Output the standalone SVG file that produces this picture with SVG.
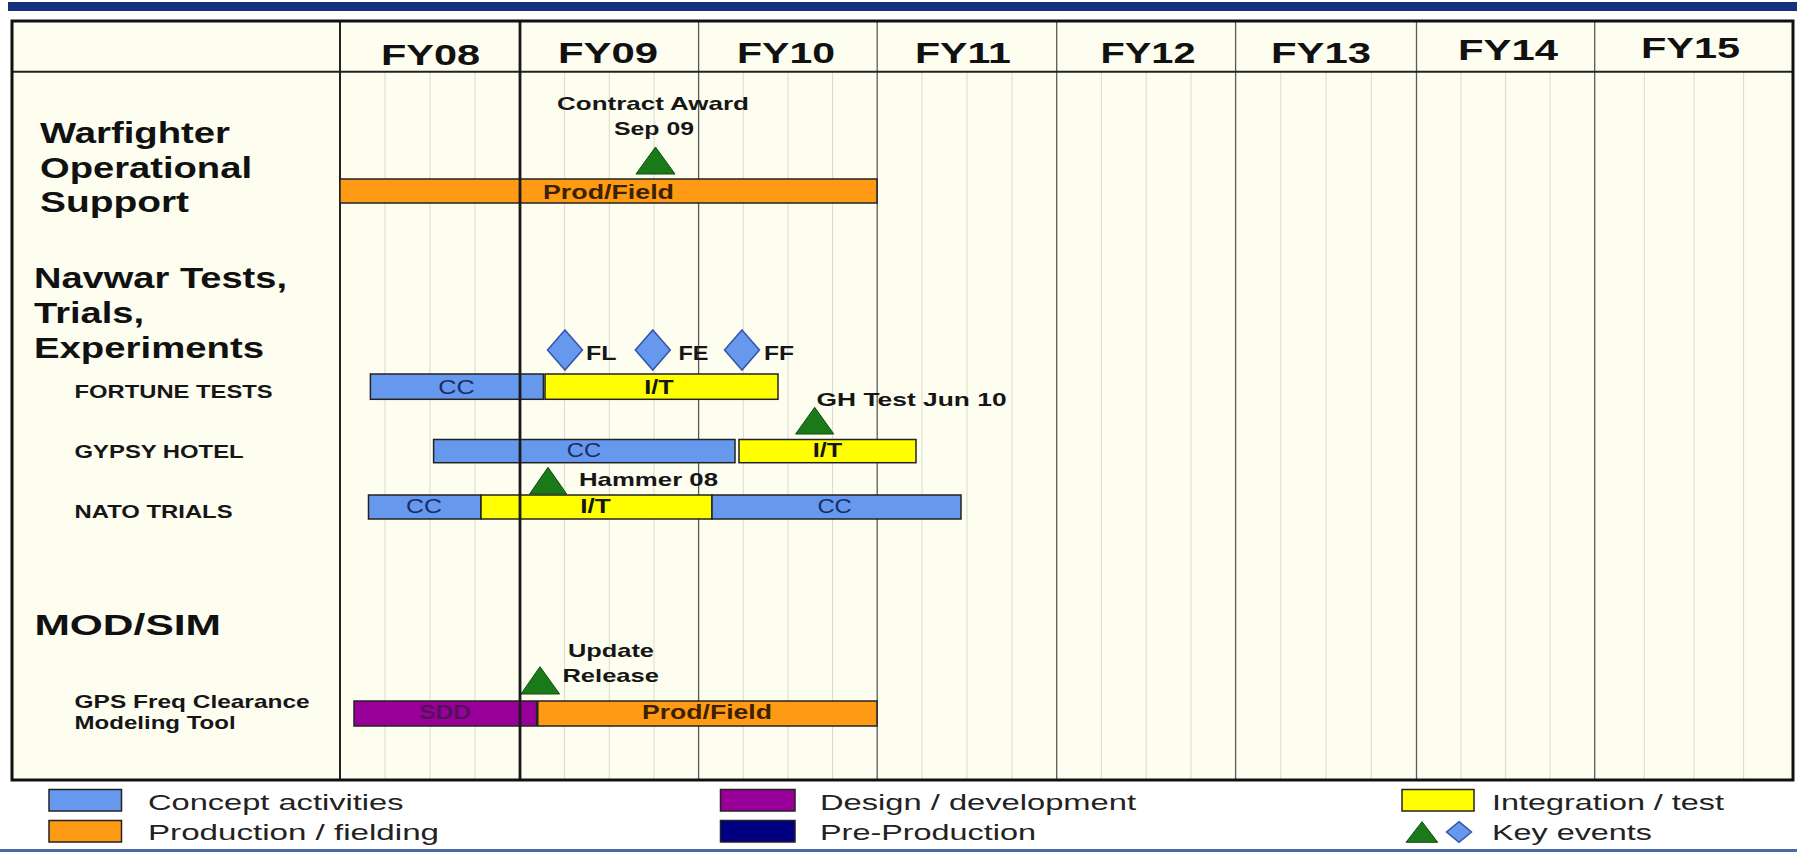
<svg xmlns="http://www.w3.org/2000/svg" width="1797" height="852" viewBox="0 0 1797 852">
  <style>
    text { font-family: "Liberation Sans", Arial, sans-serif; }
    .fy { font-size: 30px; font-weight: bold; fill: #111; }
    .sec { font-size: 29px; font-weight: bold; fill: #111; }
    .sub { font-size: 18.5px; font-weight: bold; fill: #161616; }
    .evt { font-size: 19px; font-weight: bold; fill: #161616; }
    .mk { font-size: 20px; font-weight: bold; fill: #161616; }
    .tcc { font-size: 21px; fill: #1c2c66; }
    .tit { font-size: 21px; font-weight: bold; fill: #161616; }
    .tpf { font-size: 20px; font-weight: bold; fill: #3a2200; }
    .tsdd { font-size: 20px; font-weight: bold; fill: #55105a; }
    .leg { font-size: 22px; fill: #222; }
    .bar { stroke: #222; stroke-width: 1.5; }
    .cc { fill: #6699ee; }
    .it { fill: #ffff00; }
    .pf { fill: #ff9a14; }
    .sdd { fill: #990099; }
    .pre { fill: #000080; }
    .tri { fill: #1a7a1a; stroke: #0d4d0d; stroke-width: 1; }
    .dia { fill: #6699ee; stroke: #3355aa; stroke-width: 1.5; }
    .minor { stroke: #d9d9cc; stroke-width: 1; }
    .major { stroke: #5a5a5a; stroke-width: 1.3; }
  </style>

  <!-- page background and title rule -->
  <rect x="0" y="0" width="1797" height="852" fill="#ffffff"/>
  <rect x="8" y="2" width="1789" height="9" fill="#15307f"/>
  <rect x="0" y="849" width="1797" height="3" fill="#4a6aa8"/>

  <!-- schedule grid -->
  <g id="grid">
    <rect x="12" y="21" width="1781" height="759" fill="#fdfdf0"/>
    <g class="minor">
      <line x1="385" y1="72" x2="385" y2="780"/>
      <line x1="430" y1="72" x2="430" y2="780"/>
      <line x1="475" y1="72" x2="475" y2="780"/>
      <line x1="564.6" y1="72" x2="564.6" y2="780"/>
      <line x1="609.3" y1="72" x2="609.3" y2="780"/>
      <line x1="654" y1="72" x2="654" y2="780"/>
      <line x1="743.3" y1="72" x2="743.3" y2="780"/>
      <line x1="788" y1="72" x2="788" y2="780"/>
      <line x1="832.6" y1="72" x2="832.6" y2="780"/>
      <line x1="922" y1="72" x2="922" y2="780"/>
      <line x1="967" y1="72" x2="967" y2="780"/>
      <line x1="1012" y1="72" x2="1012" y2="780"/>
      <line x1="1101.4" y1="72" x2="1101.4" y2="780"/>
      <line x1="1146.2" y1="72" x2="1146.2" y2="780"/>
      <line x1="1191" y1="72" x2="1191" y2="780"/>
      <line x1="1280.8" y1="72" x2="1280.8" y2="780"/>
      <line x1="1326" y1="72" x2="1326" y2="780"/>
      <line x1="1371.3" y1="72" x2="1371.3" y2="780"/>
      <line x1="1461" y1="72" x2="1461" y2="780"/>
      <line x1="1505.6" y1="72" x2="1505.6" y2="780"/>
      <line x1="1550" y1="72" x2="1550" y2="780"/>
      <line x1="1644.3" y1="72" x2="1644.3" y2="780"/>
      <line x1="1694" y1="72" x2="1694" y2="780"/>
      <line x1="1743.6" y1="72" x2="1743.6" y2="780"/>
    </g>
    <g class="major">
      <line x1="698.6" y1="21" x2="698.6" y2="780"/>
      <line x1="877.2" y1="21" x2="877.2" y2="780"/>
      <line x1="1056.7" y1="21" x2="1056.7" y2="780"/>
      <line x1="1235.6" y1="21" x2="1235.6" y2="780"/>
      <line x1="1416.5" y1="21" x2="1416.5" y2="780"/>
      <line x1="1594.7" y1="21" x2="1594.7" y2="780"/>
    </g>
    <line x1="340" y1="21" x2="340" y2="780" stroke="#222" stroke-width="2"/>
    <line x1="12" y1="71.7" x2="1793" y2="71.7" stroke="#222" stroke-width="2"/>
  </g>

  <!-- fiscal year headings -->
  <g id="years">
    <text class="fy" x="430.5" y="65" text-anchor="middle" textLength="99" lengthAdjust="spacingAndGlyphs">FY08</text>
    <text class="fy" x="608" y="63" text-anchor="middle" textLength="100" lengthAdjust="spacingAndGlyphs">FY09</text>
    <text class="fy" x="786" y="63" text-anchor="middle" textLength="98" lengthAdjust="spacingAndGlyphs">FY10</text>
    <text class="fy" x="963" y="63" text-anchor="middle" textLength="96" lengthAdjust="spacingAndGlyphs">FY11</text>
    <text class="fy" x="1148" y="63" text-anchor="middle" textLength="95" lengthAdjust="spacingAndGlyphs">FY12</text>
    <text class="fy" x="1321" y="63" text-anchor="middle" textLength="100" lengthAdjust="spacingAndGlyphs">FY13</text>
    <text class="fy" x="1508" y="60" text-anchor="middle" textLength="100" lengthAdjust="spacingAndGlyphs">FY14</text>
    <text class="fy" x="1690.5" y="58" text-anchor="middle" textLength="99" lengthAdjust="spacingAndGlyphs">FY15</text>
  </g>

  <!-- Warfighter Operational Support -->
  <g id="warfighter">
    <text class="sec" x="40" y="143" textLength="190" lengthAdjust="spacingAndGlyphs">Warfighter</text>
    <text class="sec" x="40" y="178" textLength="212" lengthAdjust="spacingAndGlyphs">Operational</text>
    <text class="sec" x="40" y="212" textLength="149" lengthAdjust="spacingAndGlyphs">Support</text>
    <rect class="bar pf" x="340" y="179" width="537" height="24"/>
    <text class="tpf" x="543" y="199" textLength="131" lengthAdjust="spacingAndGlyphs">Prod/Field</text>
  </g>
  <g id="contract-award">
    <text class="evt" x="653" y="110" text-anchor="middle" textLength="192" lengthAdjust="spacingAndGlyphs">Contract Award</text>
    <text class="evt" x="654" y="135" text-anchor="middle" textLength="80" lengthAdjust="spacingAndGlyphs">Sep 09</text>
    <polygon class="tri" points="655.5,147 675,174 636,174"/>
  </g>

  <!-- Navwar Tests, Trials, Experiments -->
  <g id="navwar">
    <text class="sec" x="34" y="288" textLength="253" lengthAdjust="spacingAndGlyphs">Navwar Tests,</text>
    <text class="sec" x="34" y="323" textLength="110" lengthAdjust="spacingAndGlyphs">Trials,</text>
    <text class="sec" x="34" y="358" textLength="230" lengthAdjust="spacingAndGlyphs">Experiments</text>
  </g>
  <g id="fortune-tests">
    <text class="sub" x="74.6" y="398.3" textLength="198" lengthAdjust="spacingAndGlyphs">FORTUNE TESTS</text>
    <rect class="bar cc" x="370.4" y="374" width="173" height="25.3"/>
    <rect class="bar it" x="545" y="374" width="233" height="25.3"/>
    <text class="tcc" x="456.4" y="394.3" text-anchor="middle" textLength="36.5" lengthAdjust="spacingAndGlyphs">CC</text>
    <text class="tit" x="659" y="394.3" text-anchor="middle" textLength="29.5" lengthAdjust="spacingAndGlyphs">I/T</text>
    <polygon class="dia" points="565,330 582.5,350 565,370 547.5,350"/>
    <polygon class="dia" points="652.8,330 670.3,350 652.8,370 635.3,350"/>
    <polygon class="dia" points="742,330 759.5,350 742,370 724.5,350"/>
    <text class="mk" x="586" y="360" textLength="30.5" lengthAdjust="spacingAndGlyphs">FL</text>
    <text class="mk" x="678.5" y="360" textLength="30" lengthAdjust="spacingAndGlyphs">FE</text>
    <text class="mk" x="764" y="360" textLength="30" lengthAdjust="spacingAndGlyphs">FF</text>
  </g>
  <g id="gypsy-hotel">
    <text class="sub" x="74.6" y="457.7" textLength="169" lengthAdjust="spacingAndGlyphs">GYPSY HOTEL</text>
    <rect class="bar cc" x="433.6" y="439.5" width="301.4" height="23.2"/>
    <rect class="bar it" x="739" y="439.5" width="177" height="23.2"/>
    <text class="tcc" x="584" y="456.7" text-anchor="middle" textLength="34.4" lengthAdjust="spacingAndGlyphs">CC</text>
    <text class="tit" x="827.5" y="456.7" text-anchor="middle" textLength="29.5" lengthAdjust="spacingAndGlyphs">I/T</text>
    <text class="evt" x="816.6" y="406" textLength="190" lengthAdjust="spacingAndGlyphs">GH Test Jun 10</text>
    <polygon class="tri" points="814.7,407.3 833.8,434 795.6,434"/>
  </g>
  <g id="nato-trials">
    <text class="sub" x="74.6" y="517.7" textLength="158" lengthAdjust="spacingAndGlyphs">NATO TRIALS</text>
    <rect class="bar cc" x="368.5" y="495" width="112.5" height="24"/>
    <rect class="bar it" x="481" y="495" width="231" height="24"/>
    <rect class="bar cc" x="712" y="495" width="249" height="24"/>
    <text class="tcc" x="424" y="513.3" text-anchor="middle" textLength="36" lengthAdjust="spacingAndGlyphs">CC</text>
    <text class="tit" x="595.4" y="513.3" text-anchor="middle" textLength="30.5" lengthAdjust="spacingAndGlyphs">I/T</text>
    <text class="tcc" x="834.6" y="513.3" text-anchor="middle" textLength="34.4" lengthAdjust="spacingAndGlyphs">CC</text>
    <polygon class="tri" points="548,467.3 566.7,494 529.6,494"/>
    <text class="evt" x="579" y="485.7" textLength="139" lengthAdjust="spacingAndGlyphs">Hammer 08</text>
  </g>

  <!-- Modeling and simulation -->
  <g id="modsim">
    <text class="sec" x="34.4" y="635" font-size="30" textLength="186.6" lengthAdjust="spacingAndGlyphs">MOD/SIM</text>
  </g>
  <g id="gps-freq-tool">
    <text class="sub" x="74.6" y="708.3" textLength="235" lengthAdjust="spacingAndGlyphs">GPS Freq Clearance</text>
    <text class="sub" x="74.6" y="729" textLength="161" lengthAdjust="spacingAndGlyphs">Modeling Tool</text>
    <rect class="bar sdd" x="354" y="701" width="182.6" height="25"/>
    <rect class="bar pf" x="537.8" y="701" width="339.2" height="25"/>
    <text class="tsdd" x="445" y="719.3" text-anchor="middle" textLength="51.7" lengthAdjust="spacingAndGlyphs">SDD</text>
    <text class="tpf" x="707" y="719.3" text-anchor="middle" textLength="130" lengthAdjust="spacingAndGlyphs">Prod/Field</text>
    <polygon class="tri" points="540,666.7 559.6,694 521,694"/>
    <text class="evt" x="611" y="656.7" text-anchor="middle" textLength="86" lengthAdjust="spacingAndGlyphs">Update</text>
    <text class="evt" x="610.7" y="681.7" text-anchor="middle" textLength="96.5" lengthAdjust="spacingAndGlyphs">Release</text>
  </g>

  <!-- current-year marker and frame -->
  <line x1="520" y1="21" x2="520" y2="780" stroke="#1a1a1a" stroke-width="2.8"/>
  <rect x="12" y="21" width="1781" height="759" fill="none" stroke="#111" stroke-width="3"/>

  <!-- legend -->
  <g id="legend">
    <rect class="bar cc" x="49" y="789.5" width="72.5" height="21.5"/>
    <rect class="bar pf" x="49" y="820.5" width="72.5" height="21.5"/>
    <text class="leg" x="148" y="809.5" textLength="255.5" lengthAdjust="spacingAndGlyphs">Concept activities</text>
    <text class="leg" x="148" y="840" textLength="291" lengthAdjust="spacingAndGlyphs">Production / fielding</text>
    <rect class="bar sdd" x="720.5" y="789.5" width="74.5" height="21.5"/>
    <rect class="bar pre" x="720.5" y="820.5" width="74.5" height="21.5"/>
    <text class="leg" x="820" y="809.5" textLength="316" lengthAdjust="spacingAndGlyphs">Design / development</text>
    <text class="leg" x="820" y="840" textLength="216" lengthAdjust="spacingAndGlyphs">Pre-Production</text>
    <rect class="bar it" x="1402" y="789.5" width="72" height="21.5"/>
    <text class="leg" x="1492" y="809.5" textLength="232" lengthAdjust="spacingAndGlyphs">Integration / test</text>
    <polygon class="tri" points="1422,821.7 1437.7,842.3 1406,842.3"/>
    <polygon class="dia" points="1459,821.7 1471.5,832 1459,842.3 1446.5,832"/>
    <text class="leg" x="1492" y="840" textLength="160" lengthAdjust="spacingAndGlyphs">Key events</text>
  </g>
</svg>
